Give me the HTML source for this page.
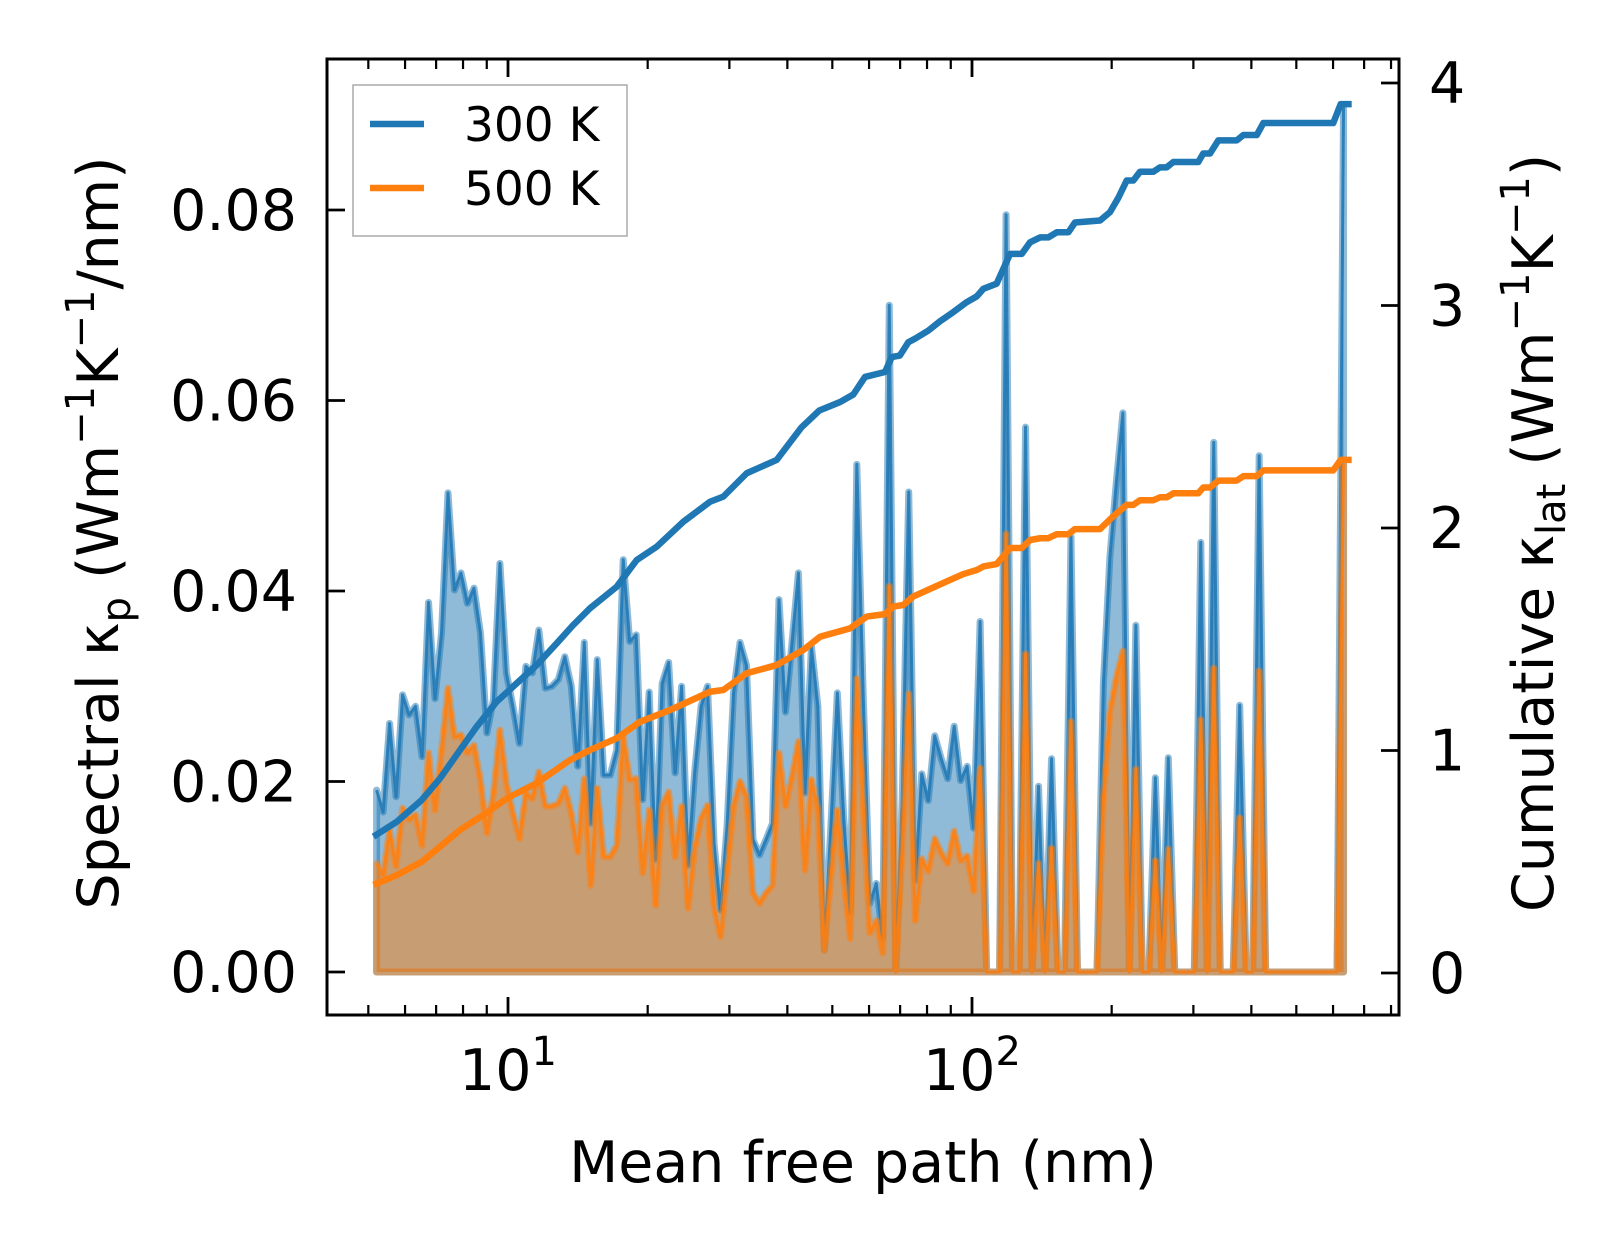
<!DOCTYPE html>
<html><head><meta charset="utf-8"><style>
html,body{margin:0;padding:0;background:#fff;}
svg{display:block;font-family:"DejaVu Sans","Liberation Sans",sans-serif;}
</style></head><body>
<svg id="chart" xmlns="http://www.w3.org/2000/svg" width="1623" height="1254" viewBox="0 0 1623 1254">
<rect x="0" y="0" width="1623" height="1254" fill="#fff"/>
<g id="marks"></g>
<g id="axes"></g>
<text x="863" y="1182" font-size="57" text-anchor="middle">Mean free path (nm)</text>
<text transform="translate(118,533) rotate(-90)" font-size="57" text-anchor="middle">Spectral κ<tspan font-size="40" dy="12">p</tspan><tspan dy="-12"> (Wm</tspan><tspan font-size="40" dy="-24">−1</tspan><tspan dy="24">K</tspan><tspan font-size="40" dy="-24">−1</tspan><tspan dy="24">/nm)</tspan></text>
<text transform="translate(1553,533) rotate(-90)" font-size="57" text-anchor="middle">Cumulative κ<tspan font-size="40" dy="12">lat</tspan><tspan dy="-12"> (Wm</tspan><tspan font-size="40" dy="-24">−1</tspan><tspan dy="24">K</tspan><tspan font-size="40" dy="-24">−1</tspan><tspan dy="24">)</tspan></text>
<g>
<rect x="353" y="85" width="274" height="151" fill="#fff" stroke="#aaa" stroke-width="1.5"/>
<line x1="370" y1="124" x2="424" y2="124" stroke="#1f77b4" stroke-width="6.5"/>
<text x="464" y="141" font-size="47">300 K</text>
<line x1="370" y1="188" x2="424" y2="188" stroke="#ff7f0e" stroke-width="6.5"/>
<text x="464" y="205" font-size="47">500 K</text>
</g>
</svg>
<script>
// spectral bin grid (log-spaced bins between these limits)
const mfpMin = 5.21;
const mfpMax = 632;
const nBins = 150;
const kappa300 = [
.0191,.0168,.0261,.0184,.0291,.0270,.0279,.0226,.0388,.0287,
.0356,.0503,.0401,.0419,.0387,.0403,.0356,.0251,.0286,.0429,
.0314,.0279,.0240,.0321,.0314,.0359,.0298,.0300,.0307,.0331,
.0300,.0216,.0346,.0156,.0328,.0207,.0207,.0233,.0433,.0347,
.0354,.0181,.0294,.0118,.0303,.0325,.0209,.0300,.0112,.0209,
.0279,.0300,.0135,.0065,.0153,.0293,.0346,.0322,.0139,.0123,
.0139,.0156,.0391,.0273,.0345,.0419,.0188,.0342,.0279,.0023,
.0153,.0293,.0160,.0062,.0533,.0287,.0072,.0093,.0035,.0700,
0,.0182,.0504,.0096,.0208,.0180,.0248,.0224,.0203,.0258,
.0201,.0216,.0151,.0368,0,0,0,.0795,0,0,
.0572,0,.0195,0,.0224,0,0,.0457,0,0,
0,0,.0304,.0436,.0515,.0587,0,.0364,0,0,
.0204,0,.0225,0,0,0,0,.0451,0,.0556,
0,0,0,.0280,0,0,.0542,0,0,0,
0,0,0,0,0,0,0,0,0,.0909];
const kappa500 = [
.0114,.0102,.0149,.0111,.0172,.0160,.0165,.0133,.0230,.0170,
.0233,.0298,.0247,.0249,.0230,.0238,.0202,.0146,.0188,.0254,
.0198,.0167,.0140,.0188,.0182,.0210,.0174,.0174,.0177,.0193,
.0167,.0126,.0203,.0091,.0193,.0121,.0121,.0133,.0247,.0202,
.0203,.0104,.0170,.0070,.0175,.0189,.0121,.0174,.0067,.0130,
.0161,.0175,.0069,.0037,.0104,.0174,.0200,.0184,.0083,.0072,
.0083,.0091,.0230,.0174,.0205,.0242,.0107,.0202,.0170,.0023,
.0100,.0170,.0095,.0035,.0308,.0172,.0041,.0054,.0020,.0405,
0,.0130,.0292,.0054,.0119,.0106,.0140,.0125,.0114,.0148,
.0117,.0122,.0085,.0214,0,0,0,.0460,0,0,
.0334,0,.0114,0,.0130,0,0,.0263,0,0,
0,0,.0183,.0273,.0310,.0337,0,.0213,0,0,
.0117,0,.0129,0,0,0,0,.0265,0,.0319,
0,0,0,.0162,0,0,.0316,0,0,0,
0,0,0,0,0,0,0,0,0,.0533];
const cumX300 = [5.13,5.76,6.52,7.14,7.88,8.56,9.45,10.44,11.53,12.74,13.82,15.02,17.15,18.94,20.92,23.87,27.25,29.11,32.69,37.94,42.89,46.87,51.95,55.49,58.80,64.94,67.13,69.90,72.9,75.4,80.5,85.3,91.1,97.4,102.4,105.8,113.0,120.8,128.0,133.4,140.2,146.0,152.3,161.3,166.7,188.8,198.4,206.7,215.5,222.7,230.2,245.9,254.2,262.8,271.6,307.4,315.1,325.8,339.5,372.0,384.4,410.9,424.5,600.6,623.0,658.1];
const cumY300 = [0.613,0.680,0.778,0.875,1.002,1.107,1.219,1.302,1.384,1.482,1.564,1.639,1.736,1.856,1.916,2.028,2.118,2.141,2.246,2.306,2.452,2.528,2.566,2.600,2.679,2.701,2.768,2.775,2.835,2.851,2.887,2.929,2.970,3.015,3.041,3.075,3.098,3.232,3.232,3.284,3.306,3.306,3.329,3.329,3.373,3.382,3.420,3.484,3.562,3.562,3.601,3.601,3.621,3.621,3.645,3.645,3.683,3.683,3.742,3.742,3.766,3.766,3.820,3.820,3.905,3.905];
const cumX500 = [5.13,5.76,6.52,7.14,7.88,8.85,9.94,11.53,13.60,15.02,17.15,19.25,22.35,27.25,29.11,32.69,37.94,43.30,47.03,54.59,59.33,64.94,67.68,71.1,74.7,81.2,88.2,95.8,102.4,105.8,113.0,120.8,128.0,133.4,140.2,146.0,152.3,161.3,166.7,188.8,201.6,215.5,222.7,230.2,245.9,254.2,262.8,271.6,307.4,315.1,325.8,339.5,372.0,384.4,410.9,424.5,600.6,623.0,658.1];
const cumY500 = [0.396,0.440,0.500,0.568,0.643,0.710,0.785,0.853,0.957,1.002,1.055,1.129,1.182,1.264,1.272,1.347,1.384,1.452,1.511,1.549,1.602,1.613,1.647,1.654,1.692,1.726,1.760,1.793,1.811,1.827,1.838,1.910,1.910,1.946,1.954,1.954,1.972,1.972,1.995,1.995,2.053,2.104,2.104,2.125,2.125,2.138,2.138,2.156,2.156,2.182,2.182,2.213,2.213,2.233,2.233,2.259,2.259,2.306,2.306];
const leftTicks = [0, 0.02, 0.04, 0.06, 0.08];
const leftTickLabels = ["0.00","0.02","0.04","0.06","0.08"];
const rightTicks = [0, 1, 2, 3, 4];
const rightTickLabels = ["0","1","2","3","4"];
const xMajorTicks = [10, 100];
const xMajorExp = ["1","2"];
const xMinorTicks = [5,6,7,8,9,20,30,40,50,60,70,80,90,200,300,400,500,600,700,800];

const NS = "http://www.w3.org/2000/svg";
const X0 = 327, X1 = 1399, Y0 = 59, Y1 = 1015;
function xS(m){ return 508 + 464*(Math.log10(m) - 1); }
function yL(k){ return 972 - 9525*k; }
function yR(c){ return 973 - 222.5*c; }
function mk(tag, attrs, parent){
  const e = document.createElementNS(NS, tag);
  for (const k in attrs) e.setAttribute(k, attrs[k]);
  parent.appendChild(e); return e;
}
const marks = document.getElementById('marks');
const axes = document.getElementById('axes');
const mfp = [];
for (let i = 0; i < nBins; i++) mfp.push(mfpMin * Math.pow(mfpMax/mfpMin, i/(nBins-1)));

function drawSpectral(vals, color, name){
  let top = vals.map((v,i)=> xS(mfp[i]).toFixed(2)+','+yL(v).toFixed(2));
  const poly = xS(mfp[0]).toFixed(2)+','+yL(0)+' '+top.join(' ')+' '+xS(mfp[mfp.length-1]).toFixed(2)+','+yL(0);
  const f = mk('polygon', {points: poly, fill: color, 'fill-opacity': 0.5, stroke: color, 'stroke-opacity': 0.5, 'stroke-width': 7, 'stroke-linejoin':'round'}, marks);
  
  
  const l = mk('polyline', {points: top.join(' '), fill: 'none', stroke: color, 'stroke-opacity': 0.85, 'stroke-width': 3, 'stroke-linejoin':'round'}, marks);
  
  
}
drawSpectral(kappa300, '#1f77b4', 'spectral-300k');
drawSpectral(kappa500, '#ff7f0e', 'spectral-500k');

function drawCum(xs, ys, color, name){
  const pts = xs.map((x,i)=> xS(x).toFixed(2)+','+yR(ys[i]).toFixed(2)).join(' ');
  const l = mk('polyline', {points: pts, fill:'none', stroke: color, 'stroke-width': 6.5, 'stroke-linejoin':'round'}, marks);
  
  
}
drawCum(cumX300, cumY300, '#1f77b4', 'cumulative-300k');
drawCum(cumX500, cumY500, '#ff7f0e', 'cumulative-500k');

const sp = mk('rect', {x: X0, y: Y0, width: X1-X0, height: Y1-Y0, fill:'none', stroke:'#000', 'stroke-width':3}, axes);



xMinorTicks.forEach(t=>{
  const x = xS(t);
  const a = mk('line', {x1:x, x2:x, y1:Y1, y2:Y1-10, stroke:'#000','stroke-width':2.2}, axes);
  
  
  const b = mk('line', {x1:x, x2:x, y1:Y0, y2:Y0+10, stroke:'#000','stroke-width':2.2}, axes);
  
  
});
xMajorTicks.forEach((t,i)=>{
  const x = xS(t);
  const a = mk('line', {x1:x, x2:x, y1:Y1, y2:Y1-18, stroke:'#000','stroke-width':2.8}, axes);
  
  
  const b = mk('line', {x1:x, x2:x, y1:Y0, y2:Y0+18, stroke:'#000','stroke-width':2.8}, axes);
  
  
  const tx = mk('text', {x: x-49, y: 1090, 'font-size': 57}, axes);
  
  
  tx.appendChild(document.createTextNode('10'));
  const sup = mk('tspan', {'font-size': 40, dy: -25}, tx);
  sup.textContent = xMajorExp[i];
});
leftTicks.forEach((t,i)=>{
  const y = yL(t);
  const a = mk('line', {x1:X0, x2:X0+18, y1:y, y2:y, stroke:'#000','stroke-width':2.8}, axes);
  
  
  const tx = mk('text', {x: 297, y: y+20, 'font-size': 57, 'text-anchor':'end'}, axes);
  
  
  tx.textContent = leftTickLabels[i];
});
rightTicks.forEach((t,i)=>{
  const y = yR(t);
  const a = mk('line', {x1:X1, x2:X1-18, y1:y, y2:y, stroke:'#000','stroke-width':2.8}, axes);
  
  
  const tx = mk('text', {x: 1429, y: y+20, 'font-size': 57}, axes);
  
  
  tx.textContent = rightTickLabels[i];
});
</script>
</body></html>
